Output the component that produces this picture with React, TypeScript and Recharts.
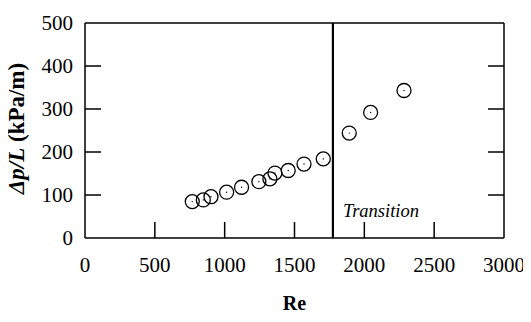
import { ScatterChart, Scatter, XAxis, YAxis, ReferenceLine } from 'recharts';

const reynolds = [768, 847, 902, 1014, 1121, 1245, 1324, 1360, 1455, 1568, 1706, 1892, 2045, 2284];
const pressureDrop = [84.6, 88.6, 96, 106.5, 118, 131, 137.5, 151, 157, 172, 184, 244, 292, 343];
const xTicks = [0, 500, 1000, 1500, 2000, 2500, 3000];
const yTicks = [0, 100, 200, 300, 400, 500];
const transitionRe = 1775;

const data = reynolds.map((re, i) => ({ re, dp: pressureDrop[i] }));

const TICK_LEN = 16;

function BottomTick({ x, y, payload }: any) {
  const v = payload.value;
  const inner = v !== 0 && v !== 3000;
  return (
    <g>
      {inner && <line x1={x} y1={y} x2={x} y2={y - TICK_LEN} stroke="#000" strokeWidth={1.5} />}
      <text x={x} y={y + 34} textAnchor="middle" style={{ fontFamily: 'Liberation Serif', fontSize: 21 }}>
        {v}
      </text>
    </g>
  );
}

function LeftTick({ x, y, payload }: any) {
  const v = payload.value;
  const inner = v !== 0 && v !== 500;
  return (
    <g>
      {inner && <line x1={x} y1={y} x2={x + TICK_LEN} y2={y} stroke="#000" strokeWidth={1.5} />}
      <text x={x - 12} y={y + 7} textAnchor="end" style={{ fontFamily: 'Liberation Serif', fontSize: 21 }}>
        {v}
      </text>
    </g>
  );
}

function TopTick({ x, y, payload }: any) {
  const v = payload.value;
  if (v === 0 || v === 3000) return <g />;
  return <line x1={x} y1={y} x2={x} y2={y + TICK_LEN} stroke="#000" strokeWidth={1.5} />;
}

function RightTick({ x, y, payload }: any) {
  const v = payload.value;
  if (v === 0 || v === 500) return <g />;
  return <line x1={x} y1={y} x2={x - TICK_LEN} y2={y} stroke="#000" strokeWidth={1.5} />;
}

function Ring({ cx, cy }: any) {
  return (
    <g>
      <circle cx={cx} cy={cy} r={7} fill="none" stroke="#000" strokeWidth={1.3} />
      <circle cx={cx} cy={cy} r={0.7} fill="#000" />
    </g>
  );
}

export default function App() {
  return (
    <div>
      <ScatterChart width={523} height={314} margin={{ top: 0, right: 0, bottom: 0, left: 0 }}>
        <XAxis
          xAxisId="b"
          dataKey="re"
          type="number"
          domain={[0, 3000]}
          ticks={xTicks}
          height={84}
          tickSize={0}
          tickMargin={0}
          tick={<BottomTick />}
          axisLine={{ stroke: '#000', strokeWidth: 1.5 }}
          allowDataOverflow
          label={{
            content: ({ viewBox }: any) =>
              viewBox ? (
                <text x={viewBox.x + viewBox.width / 2} y={viewBox.y + 72} textAnchor="middle" style={{ fontFamily: 'Liberation Serif', fontSize: 20, fontWeight: 'bold' }}>
                  Re
                </text>
              ) : null,
          }}
        />
        <XAxis
          xAxisId="t"
          orientation="top"
          type="number"
          domain={[0, 3000]}
          ticks={xTicks}
          height={15}
          tickSize={0}
          tickMargin={0}
          tick={<TopTick />}
          axisLine={{ stroke: '#000', strokeWidth: 1.5 }}
          allowDataOverflow
        />
        <YAxis
          yAxisId="l"
          dataKey="dp"
          type="number"
          domain={[0, 500]}
          ticks={yTicks}
          width={77}
          tickSize={0}
          tickMargin={0}
          tick={<LeftTick />}
          axisLine={{ stroke: '#000', strokeWidth: 1.5 }}
          allowDataOverflow
          label={{
            content: ({ viewBox }: any) => {
              if (!viewBox) return null;
              const cx = viewBox.x + 16;
              const cy = viewBox.y + viewBox.height / 2 - 2;
              return (
                <text x={cx} y={cy} transform={`rotate(-90 ${cx} ${cy})`} textAnchor="middle" style={{ fontFamily: 'Liberation Serif', fontSize: 23, fontWeight: 'bold' }}>
                  <tspan style={{ fontStyle: 'italic' }}>Δp/L</tspan> (kPa/m)
                </text>
              );
            },
          }}
        />
        <YAxis
          yAxisId="r"
          orientation="right"
          type="number"
          domain={[0, 500]}
          ticks={yTicks}
          width={27}
          tickSize={0}
          tickMargin={0}
          tick={<RightTick />}
          axisLine={{ stroke: '#000', strokeWidth: 1.5 }}
          allowDataOverflow
        />
        <ReferenceLine
          xAxisId="b"
          yAxisId="l"
          x={transitionRe}
          stroke="#000"
          strokeWidth={2.2}
          label={{
            content: ({ viewBox }: any) =>
              viewBox ? (
                <text x={viewBox.x + 10} y={viewBox.y + viewBox.height - 21} style={{ fontFamily: 'Liberation Serif', fontSize: 18.5, fontStyle: 'italic' }}>
                  Transition
                </text>
              ) : null,
          }}
        />
        <Scatter xAxisId="b" yAxisId="l" data={data} shape={<Ring />} isAnimationActive={false} />
      </ScatterChart>
    </div>
  );
}
